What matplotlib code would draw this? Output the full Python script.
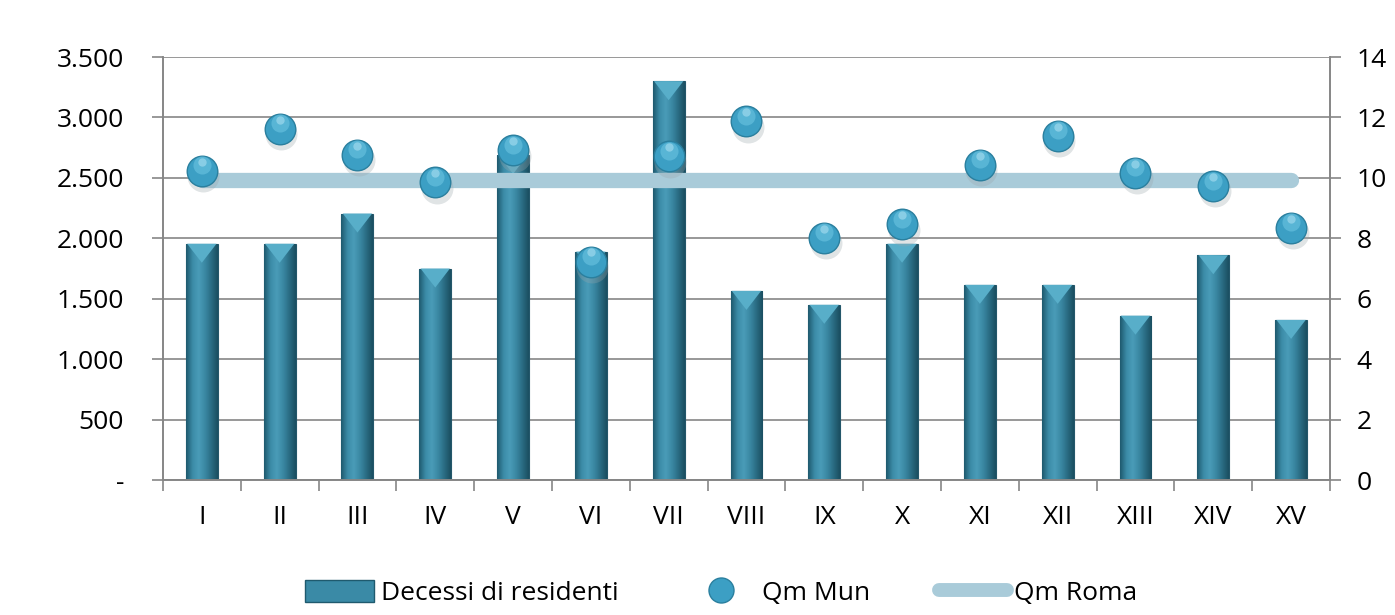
import numpy as np
import matplotlib
matplotlib.use("Agg")
import matplotlib.pyplot as plt
from matplotlib.patches import Rectangle
from matplotlib.lines import Line2D
from matplotlib.ticker import FuncFormatter, MultipleLocator
from matplotlib.colors import LinearSegmentedColormap

plt.rcParams['font.family'] = ['Open Sans', 'DejaVu Sans']

# data
municipi = ["I", "II", "III", "IV", "V", "VI", "VII", "VIII", "IX", "X",
            "XI", "XII", "XIII", "XIV", "XV"]
decessi = [1955, 1955, 2205, 1750, 2690, 1890, 3300, 1565, 1450, 1955,
           1615, 1615, 1360, 1860, 1325]
qm_mun = [10.23, 11.62, 10.76, 9.85, 10.92, 7.23, 10.72, 11.88, 8.02, 8.46,
          10.43, 11.40, 10.17, 9.73, 8.35]
qm_roma = [9.93] * 15

BAR_COL = "#3a8aa6"
DOT_COL = "#3c9fc4"
LINE_COL = "#a9cbd9"
GRID_COL = "#868686"
FS = 19

fig = plt.figure(figsize=(13.95, 6.15), dpi=100)
ax = fig.add_axes([0.1168, 0.2195, 0.8366, 0.6878])
ax2 = ax.twinx()

x = np.arange(len(municipi))

# bars with a cylinder-like gradient
bar_cmap = LinearSegmentedColormap.from_list(
    "cyl", ["#1f5a6e", "#3b8ba7", "#4a9cb8", "#3a88a3", "#2a6c83", "#1b4f61"])
bars = ax.bar(x, decessi, width=0.41, color=BAR_COL, edgecolor="#24576a",
              lw=0.8, zorder=2)
grad = np.linspace(0, 1, 64).reshape(1, -1)
for b in bars:
    x0, w, h = b.get_x(), b.get_width(), b.get_height()
    im = ax.imshow(grad, cmap=bar_cmap, aspect="auto",
                   extent=(x0, x0 + w, 0, h), zorder=2.1, interpolation="bicubic")
    im.set_clip_path(b)
    # bevelled top
    bev = 0.045 * 3500
    ax.fill([x0 + w * 0.04, x0 + w * 0.96, x0 + w * 0.5], [h, h, h - bev],
            color="#58aec9", zorder=2.2, lw=0)

ax.set_xlim(-0.5, len(municipi) - 0.5)
ax.set_ylim(0, 3500)
ax.yaxis.set_major_locator(MultipleLocator(500))
ax.yaxis.set_major_formatter(FuncFormatter(
    lambda v, p: "-" if v == 0 else f"{int(v):,}".replace(",", ".")))
ax.grid(axis="y", color=GRID_COL, lw=1.2, zorder=0)
ax.set_axisbelow(True)

ax.set_xticks(x)
ax.set_xticklabels(municipi)
ax.set_xticks(np.arange(-0.5, len(municipi)), minor=True)
ax.tick_params(axis="x", which="major", length=0, pad=18, labelsize=FS)
ax.tick_params(axis="x", which="minor", length=8, color=GRID_COL, width=1.2)
ax.tick_params(axis="y", length=8, color=GRID_COL, width=1.2, pad=20, labelsize=FS)

# right axis
ax2.set_ylim(0, 14)
ax2.yaxis.set_major_locator(MultipleLocator(2))
ax2.tick_params(axis="y", length=8, color=GRID_COL, width=1.2, pad=11, labelsize=FS)
ax2.plot(x, qm_roma, color=LINE_COL, lw=11, solid_capstyle="round", zorder=3)
# shadow, sphere and highlight for points
ax2.plot(x + 0.02, np.array(qm_mun) - 0.18, "o", ms=23, color="#9aa6ab",
         alpha=0.3, mec="none", zorder=3.5)
ax2.plot(x, qm_mun, "o", ms=22, color=DOT_COL, mec="#2a7f9e", mew=1, zorder=4)
ax2.plot(x, np.array(qm_mun) + 0.18, "o", ms=13, color="#6cc4e2",
         alpha=0.6, mec="none", zorder=4.1)
ax2.plot(x, np.array(qm_mun) + 0.3, "o", ms=6, color="#b8e6f6",
         alpha=0.5, mec="none", zorder=4.2)

for a in (ax, ax2):
    a.spines["top"].set_visible(False)
    for s in ("left", "right", "bottom"):
        a.spines[s].set_color(GRID_COL)
        a.spines[s].set_linewidth(1.2)
ax.set_zorder(ax2.get_zorder() - 1)
ax2.patch.set_visible(False)

handles = [
    Rectangle((0, 0), 1, 1, facecolor=BAR_COL, edgecolor="#1f5a6e"),
    Line2D([], [], ls="none", marker="o", ms=18, color=DOT_COL, mec="#2a7f9e"),
    Line2D([], [], color=LINE_COL, lw=10, solid_capstyle="round"),
]
fig.legend(handles, ["Decessi di residenti", "Qm Mun", "Qm Roma"],
           loc="center", bbox_to_anchor=(0.517, 0.036), ncol=3, frameon=False,
           fontsize=FS, handlelength=2.6, handleheight=0.9, columnspacing=2.6,
           handletextpad=0.25)

fig.savefig("out.png", dpi=100)
